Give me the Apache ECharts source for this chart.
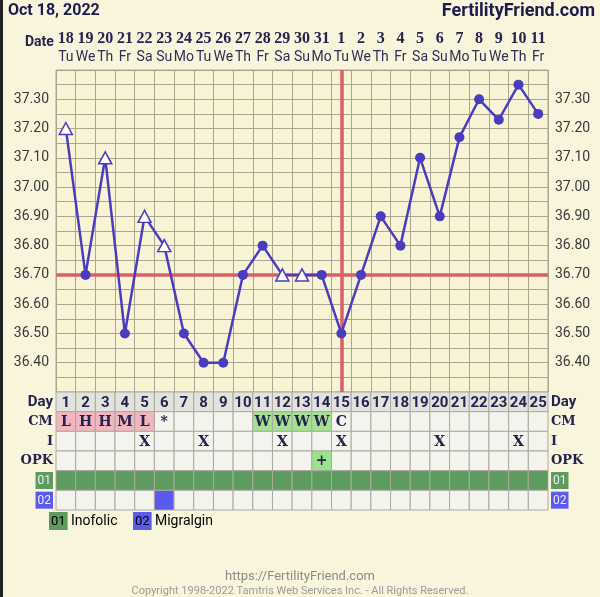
<!DOCTYPE html>
<html><head><meta charset="utf-8">
<script src="https://cdn.jsdelivr.net/npm/echarts@6/dist/echarts.min.js"></script>
<style>html,body{margin:0;padding:0;background:#f9f5dd;} #c{width:600px;height:597px;}</style>
</head><body><div id="c"></div>
<script>
const dates = ['18','19','20','21','22','23','24','25','26','27','28','29','30','31','1','2','3','4','5','6','7','8','9','10','11'];
const weekdays = ['Tu','We','Th','Fr','Sa','Su','Mo','Tu','We','Th','Fr','Sa','Su','Mo','Tu','We','Th','Fr','Sa','Su','Mo','Tu','We','Th','Fr'];
const cycleDays = ['1','2','3','4','5','6','7','8','9','10','11','12','13','14','15','16','17','18','19','20','21','22','23','24','25'];
const temps = [37.20,36.70,37.10,36.50,36.90,36.80,36.50,36.40,36.40,36.70,36.80,36.70,36.70,36.70,36.50,36.70,36.90,36.80,37.10,36.90,37.17,37.30,37.23,37.35,37.25];
const openTemps = [1,0,1,0,1,1,0,0,0,0,0,1,1,0,0,0,0,0,0,0,0,0,0,0,0];
const coverline = 36.70;
const ovulationLineIndex = 14;
const tempTicks = ['36.40','36.50','36.60','36.70','36.80','36.90','37.00','37.10','37.20','37.30'];
const cmObs = ['L','H','H','M','L','*','','','','','W','W','W','W','C','','','','','','','','','',''];
const intercourseDays = [5,8,12,15,20,24];
const opkDays = [14];
const opkResult = '+';
const med01Days = [1,2,3,4,5,6,7,8,9,10,11,12,13,14,15,16,17,18,19,20,21,22,23,24,25];
const med02Days = [6];
const rows = ['Day','CM','I','OPK','01','02'];
const medNames = ['Inofolic','Migralgin'];

const C_LINE = '#4a3cbf', C_RED = '#d9606a', C_GRID = '#a9a78f', C_TEXT = '#23234d';
const C_MED1 = '#5e9b5e', C_MED2 = '#5a5af0';
const SERIF = '"DejaVu Serif", serif';
const SLAB = '"Liberation Serif", serif';
const SANS = 'Roboto, "Noto Sans", sans-serif';

const chart = echarts.init(document.getElementById('c'), null, {renderer:'canvas'});

const cellData = [];
cycleDays.forEach((d, i) => {
  const day = i + 1;
  rows.forEach((r, ri) => {
    let text = '', fill = '#f4f4ee', font = 'serif';
    if (r === 'Day') { text = d; fill = '#e3e3dd'; font = 'sans'; }
    else if (r === 'CM') {
      text = cmObs[i];
      if ('LHM'.includes(text) && text) fill = '#f2b6c1';
      else if (text === 'W') fill = '#a6e191';
    } else if (r === 'I') { if (intercourseDays.includes(day)) text = 'X'; }
    else if (r === 'OPK') { if (opkDays.includes(day)) { text = opkResult; fill = '#9ae38b'; } }
    else if (r === '01') { if (med01Days.includes(day)) fill = C_MED1; }
    else if (r === '02') { if (med02Days.includes(day)) fill = C_MED2; }
    cellData.push([d, r, text, fill, font]);
  });
});

const rowLabelRich = {
  day: {fontFamily: SANS, fontWeight: 'bold', fontSize: 15, color: C_TEXT},
  s: {fontFamily: SERIF, fontWeight: 'bold', fontSize: 13, color: C_TEXT},
  m1: {backgroundColor: C_MED1, color: '#eef', fontFamily: SANS, fontSize: 12, padding: [3, 2, 2, 2]},
  m2: {backgroundColor: C_MED2, color: '#eef', fontFamily: SANS, fontSize: 12, padding: [3, 2, 2, 2]}
};
function rowLabel(v) {
  if (v === 'Day') return '{day|Day}';
  if (v === '01') return '{m1|01}';
  if (v === '02') return '{m2|02}';
  return '{s|' + v + '}';
}
function tempLabel(v) {
  const s = (Math.round(v * 100) / 100).toFixed(2);
  return tempTicks.includes(s) ? s : '';
}

const option = {
  backgroundColor: '#f9f5dd',
  animation: false,
  grid: [
    {left: 56, right: 52, top: 70, height: 322, show: true, backgroundColor: '#f7f3d4', borderColor: C_GRID, borderWidth: 1},
    {left: 56, right: 52, top: 392, height: 118}
  ],
  xAxis: [
    {gridIndex: 0, type: 'category', data: dates, position: 'top', boundaryGap: true,
     axisLine: {show: false}, axisTick: {show: false},
     splitLine: {show: true, interval: 0, lineStyle: {color: C_GRID, width: 1}},
     axisLabel: {interval: 0, margin: 4, formatter: (v, i) => '{d|' + v + '}\n{w|' + weekdays[i] + '}',
       rich: {d: {fontFamily: SLAB, fontWeight: 'bold', fontSize: 16, color: C_TEXT, lineHeight: 19},
              w: {fontFamily: SANS, fontSize: 14, color: '#2e2e55', lineHeight: 18}}}},
    {gridIndex: 1, type: 'category', data: cycleDays, boundaryGap: true,
     axisLine: {show: false}, axisTick: {show: false}, axisLabel: {show: false}, splitLine: {show: false}}
  ],
  yAxis: [
    {gridIndex: 0, type: 'value', min: 36.30, max: 37.40, interval: 0.05, position: 'left',
     axisLine: {show: false}, axisTick: {show: false},
     splitLine: {show: true, lineStyle: {color: C_GRID, width: 1}},
     axisLabel: {formatter: tempLabel, margin: 7, color: '#3a3a3a', fontFamily: SANS, fontSize: 14}},
    {gridIndex: 0, type: 'value', min: 36.30, max: 37.40, interval: 0.05, position: 'right',
     axisLine: {show: false}, axisTick: {show: false}, splitLine: {show: false},
     axisLabel: {formatter: tempLabel, margin: 7, color: '#3a3a3a', fontFamily: SANS, fontSize: 14}},
    {gridIndex: 1, type: 'category', data: rows, inverse: true, position: 'left',
     axisLine: {show: false}, axisTick: {show: false},
     axisLabel: {interval: 0, margin: 3, formatter: rowLabel, rich: rowLabelRich}},
    {gridIndex: 1, type: 'category', data: rows, inverse: true, position: 'right',
     axisLine: {show: false}, axisTick: {show: false},
     axisLabel: {interval: 0, margin: 3, formatter: rowLabel, rich: rowLabelRich}}
  ],
  series: [
    {type: 'line', xAxisIndex: 0, yAxisIndex: 0, data: temps, z: 1, silent: true,
     showSymbol: false, lineStyle: {opacity: 0},
     markLine: {silent: true, symbol: 'none', label: {show: false}, animation: false,
       data: [
         {yAxis: coverline, lineStyle: {color: C_RED, width: 3.5, type: 'solid'}},
         {xAxis: ovulationLineIndex, lineStyle: {color: C_RED, width: 3.5, type: 'solid'}}
       ]}},
    {type: 'line', xAxisIndex: 0, yAxisIndex: 0, z: 5,
     lineStyle: {color: C_LINE, width: 2.5},
     data: temps.map((t, i) => openTemps[i]
       ? {value: t, symbol: 'triangle', symbolSize: [13, 12], itemStyle: {color: '#ffffff', borderColor: C_LINE, borderWidth: 1.5}}
       : {value: t, symbol: 'circle', symbolSize: 10, itemStyle: {color: C_LINE, borderColor: C_LINE, borderWidth: 0}})},
    {type: 'custom', xAxisIndex: 1, yAxisIndex: 2, data: cellData, z: 3,
     renderItem: function (params, api) {
       const p = api.coord([api.value(0), api.value(1)]);
       const s = api.size([1, 1]);
       const d = cellData[params.dataIndex];
       const rect = {type: 'rect', shape: {x: p[0] - s[0] / 2, y: p[1] - s[1] / 2, width: s[0], height: s[1]},
         style: {fill: d[3], stroke: '#aaa9a0', lineWidth: 1}};
       const children = [rect];
       if (d[2]) {
         children.push({type: 'text', x: p[0], y: p[1] + 1, style: {text: d[2], align: 'center', verticalAlign: 'middle',
           fill: C_TEXT, fontWeight: 'bold',
           fontFamily: d[4] === 'sans' ? SANS : SERIF, fontSize: d[4] === 'sans' ? 15 : 14}});
       }
       return {type: 'group', children: children};
     }}
  ],
  graphic: [
    {type: 'rect', left: 0, top: 0, shape: {width: 3, height: 597}, style: {fill: '#222'}},
    {type: 'text', left: 8, top: 3, style: {text: 'Oct 18, 2022', fontFamily: SANS, fontWeight: 'bold', fontSize: 16, fill: '#1c1c4c'}},
    {type: 'text', right: 5, top: 2, style: {text: 'FertilityFriend.com', fontFamily: SANS, fontWeight: 'bold', fontSize: 18, fill: '#1c1c4c'}},
    {type: 'text', left: 25, top: 35, style: {text: 'Date', fontFamily: SANS, fontWeight: 'bold', fontSize: 14, fill: C_TEXT}},
    {type: 'text', left: 49, top: 512, style: {text: '{m1|01} {n|' + medNames[0] + '}',
      rich: {m1: {backgroundColor: C_MED1, color: '#eef', fontFamily: SANS, fontSize: 13, padding: [3, 2, 2, 2]},
             n: {fontFamily: SANS, fontSize: 14, color: '#222'}}}},
    {type: 'text', left: 133, top: 512, style: {text: '{m2|02} {n|' + medNames[1] + '}',
      rich: {m2: {backgroundColor: C_MED2, color: '#eef', fontFamily: SANS, fontSize: 13, padding: [3, 2, 2, 2]},
             n: {fontFamily: SANS, fontSize: 14, color: '#222'}}}},
    {type: 'text', left: 'center', top: 570, style: {text: 'https://FertilityFriend.com', fontFamily: SANS, fontSize: 13, fill: '#8a8a8a'}},
    {type: 'text', left: 'center', top: 586, style: {text: 'Copyright 1998-2022 Tamtris Web Services Inc. - All Rights Reserved.', fontFamily: SANS, fontSize: 11, fill: '#9a9a9a'}}
  ]
};
chart.setOption(option);
</script></body></html>
